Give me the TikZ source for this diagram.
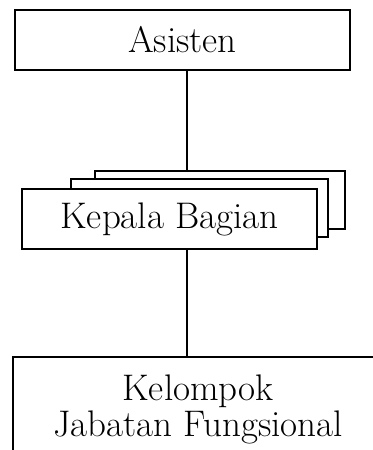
\documentclass[tikz,border=0pt]{standalone}
\usepackage{tikz}
\usetikzlibrary{positioning,calc}
\tikzset{
  box/.style={draw,fill=white,align=center,inner sep=4pt,line width=1pt,
    font=\fontsize{18.5}{18}\selectfont},
  link/.style={line width=1pt},
}

\begin{document}
\begin{tikzpicture}[x=0.5pt,y=-0.5pt]
\clip (0,0) rectangle (373,450);
\node[box, minimum width=167.5pt, minimum height=30pt] (asisten) at (182.5,40) {Asisten};
\node[box, minimum width=125pt, minimum height=29pt] (kabag3) at (220,200) {};
\node[box, minimum width=128.5pt, minimum height=29pt] (kabag2) at (199.5,208) {};
\node[box, minimum width=147.5pt, minimum height=30pt] (kabag) at (169.5,219) {Kepala Bagian};
\node[box, minimum width=185pt, minimum height=52pt] (kjf) at (198,409) {Kelompok\\Jabatan Fungsional};
\draw[link] ($(asisten.south)+(4.5,0)$) coordinate (a1) -- (a1 |- kabag3.north);
\draw[link] (a1 |- kabag.south) -- (a1 |- kjf.north);
\end{tikzpicture}
\end{document}
